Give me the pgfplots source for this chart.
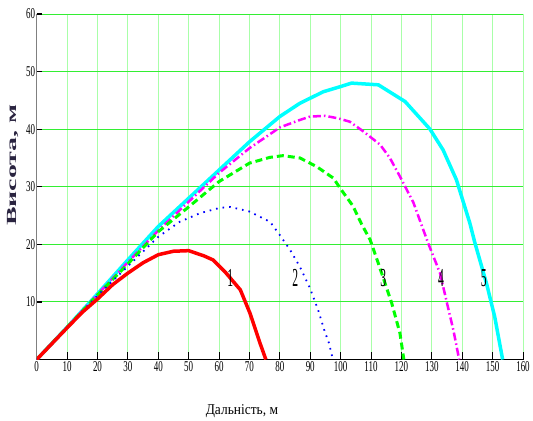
\documentclass[border=0pt]{standalone}
\usepackage{fontspec}
\setmainfont{Liberation Serif}
\newfontfamily\tickfont[FakeStretch=0.6]{Liberation Serif}
\newfontfamily\numfont[FakeStretch=0.45]{Liberation Serif}
\newfontfamily\xlabfont[FakeStretch=0.9]{Liberation Serif}
\newfontfamily\ylabfont[FakeStretch=2.0]{Liberation Serif}
\usepackage{pgfplots}
\pgfplotsset{compat=1.18}
\usetikzlibrary{calc}

\definecolor{hgrid}{HTML}{33EE33}
\definecolor{vgrid}{HTML}{A8FFA8}
\definecolor{ylab}{HTML}{2A2440}
\definecolor{c1}{HTML}{FF0000}
\definecolor{c2}{HTML}{0000FF}
\definecolor{c3}{HTML}{00FF00}
\definecolor{c4}{HTML}{FF00FF}
\definecolor{c5}{HTML}{00FFFF}

\begin{document}
\begin{tikzpicture}
\begin{axis}[
    name=ax,
    scale only axis,
    width=486.3bp, height=345.5bp,
    xmin=0, xmax=160, ymin=0, ymax=60,
    xtick={0,10,...,160}, ytick={10,20,...,60},
    axis lines=left,
    x axis line style={black, line width=1.6bp, -},
    y axis line style={gray, line width=0.8bp, -},
    tick align=inside,
    xtick style={black, line width=0.8bp, /pgfplots/major tick length=7.5bp},
    ytick style={black, line width=1.2bp, /pgfplots/major tick length=5.5bp},
    grid=major,
    major x grid style={vgrid, line width=0.9bp},
    major y grid style={hgrid, line width=0.9bp},
    /pgf/number format/assume math mode=true,
    ticklabel style={font=\fontsize{15}{15}\selectfont\tickfont},
    xticklabel style={inner sep=1.5bp},
    yticklabel style={inner sep=1.5bp},
    xlabel={Дальність, м},
    ylabel={Висота, м},
    xlabel style={font=\fontsize{15}{15}\selectfont\xlabfont, at={(rel axis cs:0.422,0)}, yshift=-52bp, anchor=center},
    ylabel style={font=\fontsize{14}{14}\selectfont\ylabfont\bfseries, text=ylab, at={(rel axis cs:0,0.563)}, yshift=23.7bp, anchor=center},
]
% 5
\addplot[c5, line width=3.5bp] coordinates {
    (0,0) (10,5.6) (20,11.4) (30,17.3) (40,23.1) (50,28.0) (60,32.9) (70,37.8)
    (80,42.2) (86.6,44.5) (94.3,46.5) (100,47.4) (103.6,48.0) (112.4,47.7)
    (121.2,44.8) (129.4,40.0) (133.7,36.4) (138.1,31.2) (142.5,23.7) (144.2,20.2)
    (148,13.2) (150.7,7.4) (153.3,0)
};
% 4
\addplot[c4, line width=2.5bp, dash pattern=on 8bp off 3bp on 1.5bp off 3bp] coordinates {
    (0,0) (10,5.6) (20,11.3) (30,16.9) (40,22.4) (50,27.4) (60,32.4) (70,36.7)
    (80,40.3) (86.6,41.6) (90,42.2) (95,42.3) (99,41.9) (103,41.3) (107.5,39.6)
    (113,37.3) (116.2,35.0) (119.5,31.8) (123.9,27.3) (128.8,20.2) (132.7,15.0)
    (134.9,10.0) (137.1,5.1) (139,0)
};
% 3
\addplot[c3, line width=3bp, dash pattern=on 7bp off 4bp] coordinates {
    (0,0) (10,5.6) (20,11.2) (30,16.6) (40,22.2) (50,26.5) (60,30.9) (70,34.1)
    (76.7,35.1) (81,35.4) (86.6,35.0) (92.1,33.5) (97.6,31.5) (100.3,29.4)
    (104,26.7) (107,23.4) (109.7,20.8) (112.4,16.7) (116.8,9.8) (119.5,4.6) (120.8,0)
};
% 2
\addplot[c2, line width=1.8bp, dash pattern=on 1.6bp off 5bp] coordinates {
    (0,0) (10,5.6) (20,11.1) (30,16.2) (40,21.3) (47,23.9) (53.7,25.4) (60,26.3)
    (63.6,26.5) (70,25.7) (76.8,23.9) (80,21.6) (83.4,19.0) (86.6,16.1) (89.9,12.4)
    (92.6,8.6) (94.8,4.8) (96.2,2.8) (97.2,0.5)
};
% 1
\addplot[c1, line width=3.5bp] coordinates {
    (0,0) (10,5.5) (15,8.2) (20,10.5) (25,13.0) (30,15.0) (35,16.8) (40,18.2)
    (45,18.8) (50,18.9) (55,18.0) (58,17.3) (62,15.2) (67,12.1) (70.2,8.0)
    (73.5,2.8) (75.4,0)
};
\node[font=\fontsize{26}{26}\selectfont\numfont] at (axis cs:63.7,14.1) {1};
\node[font=\fontsize{26}{26}\selectfont\numfont] at (axis cs:85.1,14.1) {2};
\node[font=\fontsize{26}{26}\selectfont\numfont] at (axis cs:114,14.1) {3};
\node[font=\fontsize{26}{26}\selectfont\numfont] at (axis cs:133,14.1) {4};
\node[font=\fontsize{26}{26}\selectfont\numfont] at (axis cs:147.1,14.1) {5};
\end{axis}
\pgfresetboundingbox
\path ($(ax.south west)+(-36.7bp,-61.5bp)$) rectangle ($(ax.north east)+(10bp,14bp)$);
\end{tikzpicture}
\end{document}
